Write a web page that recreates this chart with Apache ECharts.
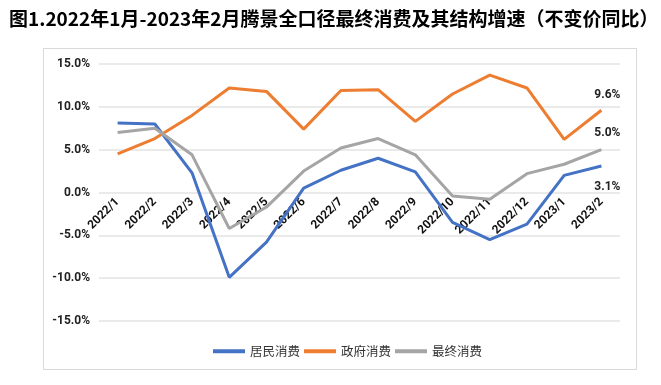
<!DOCTYPE html>
<html><head><meta charset="utf-8">
<script src="https://cdn.jsdelivr.net/npm/echarts@6/dist/echarts.min.js"></script>
<style>html,body{margin:0;padding:0;background:#fff}#c{width:661px;height:385px}</style>
</head><body><div id="c"></div>
<script>
const categories = ['2022/1','2022/2','2022/3','2022/4','2022/5','2022/6','2022/7','2022/8','2022/9','2022/10','2022/11','2022/12','2023/1','2023/2'];
const household = [8.1, 8.0, 2.3, -9.9, -5.8, 0.5, 2.6, 4.0, 2.4, -3.5, -5.5, -3.7, 2.0, 3.1];
const government = [4.5, 6.3, 9.0, 12.2, 11.8, 7.4, 11.9, 12.0, 8.3, 11.5, 13.7, 12.2, 6.2, 9.6];
const finalCons = [7.0, 7.5, 4.4, -4.2, -1.7, 2.5, 5.2, 6.3, 4.4, -0.4, -0.8, 2.2, 3.3, 5.0];
const seriesNames = ['居民消费', '政府消费', '最终消费'];
const colors = ['#4472C4', '#ED7D31', '#A5A5A5'];
const titleText = '图1.2022年1月-2023年2月腾景全口径最终消费及其结构增速（不变价同比）';

const chart = echarts.init(document.getElementById('c'));
const last = categories.length - 1;
function lastLabel(offset) {
  return {
    show: true,
    formatter: p => p.dataIndex === last ? Number(p.value).toFixed(1) + '%' : '',
    position: 'top',
    offset: offset,
    fontFamily: 'Roboto', fontWeight: 'bold', fontSize: 12, color: '#222'
  };
}
const labelOffsets = [[6, 32], [6, -4], [6, -6]];
const data = [household, government, finalCons];
chart.setOption({
  animation: false,
  title: {
    text: titleText, left: 4, top: 4,
    textStyle: {fontFamily: 'Noto Sans CJK SC', fontWeight: 'bold', fontSize: 19, color: '#000'}
  },
  graphic: [{type: 'rect', shape: {x: 43.5, y: 48.5, width: 593, height: 321}, style: {fill: 'none', stroke: '#d9d9d9', lineWidth: 1}, silent: true, z: -1}],
  grid: {left: 99, right: 41, top: 64, bottom: 64},
  legend: {
    left: 208, top: 340, itemGap: 4, itemWidth: 32, itemHeight: 4, icon: 'rect',
    textStyle: {fontFamily: 'Noto Sans CJK SC', fontSize: 12.5, color: '#333'},
    data: seriesNames
  },
  xAxis: {
    type: 'category', data: categories, boundaryGap: true, offset: -129,
    axisLine: {show: false, onZero: false}, axisTick: {show: false},
    axisLabel: {rotate: 45, interval: 0, margin: 8, fontFamily: 'Roboto', fontWeight: 'bold', fontSize: 12, color: '#111'}
  },
  yAxis: {
    type: 'value', min: -15, max: 15, interval: 5,
    axisLine: {show: false}, axisTick: {show: false},
    splitLine: {lineStyle: {color: '#e3e3e3', width: 1.5}},
    axisLabel: {formatter: v => v.toFixed(1) + '%', margin: 9, fontFamily: 'Roboto', fontWeight: 'bold', fontSize: 12, color: '#222'}
  },
  series: seriesNames.map((n, i) => ({
    name: n, type: 'line', data: data[i], symbol: 'circle', symbolSize: 0.1, showSymbol: true, smooth: false,
    lineStyle: {color: colors[i], width: 3}, itemStyle: {color: colors[i]},
    label: lastLabel(labelOffsets[i])
  }))
});
</script></body></html>
